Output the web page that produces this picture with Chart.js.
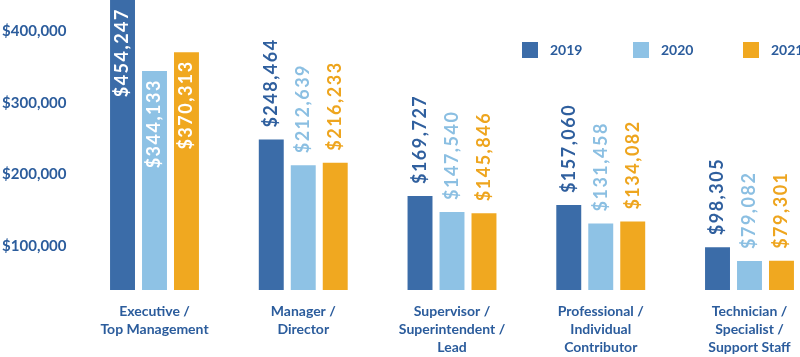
<!DOCTYPE html>
<html>
<head>
<meta charset="utf-8">
<script src="https://cdn.jsdelivr.net/npm/chart.js@4/dist/chart.umd.min.js"></script>
<style>
  html, body { margin: 0; padding: 0; background: #ffffff; }
  #wrap { width: 800px; height: 357px; }
</style>
</head>
<body>
<div id="wrap"><canvas id="c" width="800" height="357"></canvas></div>
<script>
// ---- data ----
const categories = [
  ['Executive /', 'Top Management'],
  ['Manager /', 'Director'],
  ['Supervisor /', 'Superintendent /', 'Lead'],
  ['Professional /', 'Individual', 'Contributor'],
  ['Technician /', 'Specialist /', 'Support Staff']
];
const years = ['2019', '2020', '2021'];
const values2019 = [454247, 248464, 169727, 157060, 98305];
const values2020 = [344133, 212639, 147540, 131458, 79082];
const values2021 = [370313, 216233, 145846, 134082, 79301];
const yTicks = [100000, 200000, 300000, 400000];

// ---- styles ----
const barColors = ['#3b6ca8', '#8ec2e5', '#f0a820'];
const labelColors = ['#2f5f9e', '#8bbfe2', '#eea51e'];
const axisColor = '#2b5c9c';
const FONT = 'Lato, "Open Sans", sans-serif';

const fmt = v => '$' + v.toLocaleString('en-US');

const valueLabels = {
  id: 'valueLabels',
  afterDatasetsDraw(chart) {
    const ctx = chart.ctx;
    const area = chart.chartArea;
    ctx.save();
    ctx.font = 'bold 18px ' + FONT;
    try { ctx.letterSpacing = '1.5px'; } catch (e) {}
    ctx.textBaseline = 'middle';
    chart.data.datasets.forEach((ds, di) => {
      const meta = chart.getDatasetMeta(di);
      meta.data.forEach((el, i) => {
        const txt = fmt(ds.data[i]);
        const w = ctx.measureText(txt).width;
        const top = el.y;
        ctx.save();
        if (top - 12 - w < area.top) {
          const ay = Math.max(top, 0) + 8;
          ctx.translate(el.x, ay);
          ctx.rotate(-Math.PI / 2);
          ctx.textAlign = 'right';
          ctx.fillStyle = '#ffffff';
          ctx.fillText(txt, 0, 0);
        } else {
          ctx.translate(el.x, top - 12);
          ctx.rotate(-Math.PI / 2);
          ctx.textAlign = 'left';
          ctx.fillStyle = labelColors[di];
          ctx.fillText(txt, 0, 0);
        }
        ctx.restore();
      });
    });
    ctx.restore();
  }
};

const customLegend = {
  id: 'customLegend',
  afterDraw(chart) {
    const ctx = chart.ctx;
    const boxX = [522, 633, 743];
    ctx.save();
    ctx.font = 'bold 14px ' + FONT;
    ctx.textBaseline = 'middle';
    ctx.textAlign = 'left';
    chart.data.datasets.forEach((ds, di) => {
      ctx.fillStyle = ds.backgroundColor;
      ctx.fillRect(boxX[di], 42, 16, 16);
      ctx.fillStyle = axisColor;
      ctx.fillText(ds.label, boxX[di] + 28, 50.5);
    });
    ctx.restore();
  }
};

new Chart(document.getElementById('c'), {
  type: 'bar',
  data: {
    labels: categories,
    datasets: [
      { label: years[0], data: values2019, backgroundColor: barColors[0] },
      { label: years[1], data: values2020, backgroundColor: barColors[1] },
      { label: years[2], data: values2021, backgroundColor: barColors[2] }
    ]
  },
  options: {
    responsive: false,
    animation: false,
    devicePixelRatio: 1,
    layout: { padding: { left: 0, top: 0, right: 50.5, bottom: 0 } },
    datasets: {
      bar: {
        categoryPercentage: 0.645,
        barPercentage: 0.78,
        clip: { left: false, top: false, right: false, bottom: 0 },
        borderWidth: 0
      }
    },
    plugins: {
      legend: { display: false },
      tooltip: { enabled: false }
    },
    scales: {
      x: {
        offset: false,
        grid: { display: false, drawTicks: false },
        border: { display: false },
        ticks: {
          autoSkip: false,
          maxRotation: 0,
          minRotation: 0,
          padding: 12,
          color: axisColor,
          font: { family: FONT, size: 14, weight: 'bold', lineHeight: 1.29 }
        },
        afterFit(scale) {
          scale.height = 67;
          scale.paddingLeft = 0;
          scale.paddingRight = 0;
        }
      },
      y: {
        min: 38600,
        max: 443300,
        grid: { display: false, drawTicks: false },
        border: { display: false },
        afterBuildTicks(scale) {
          scale.ticks = yTicks.map(v => ({ value: v }));
        },
        ticks: {
          crossAlign: 'center',
          padding: 88,
          color: axisColor,
          font: { family: FONT, size: 15, weight: 'bold' },
          callback: v => fmt(v)
        },
        afterFit(scale) {
          scale.width = 154.5;
          scale.paddingTop = 0;
          scale.paddingBottom = 0;
        }
      }
    }
  },
  plugins: [valueLabels, customLegend]
});
</script>
</body>
</html>
